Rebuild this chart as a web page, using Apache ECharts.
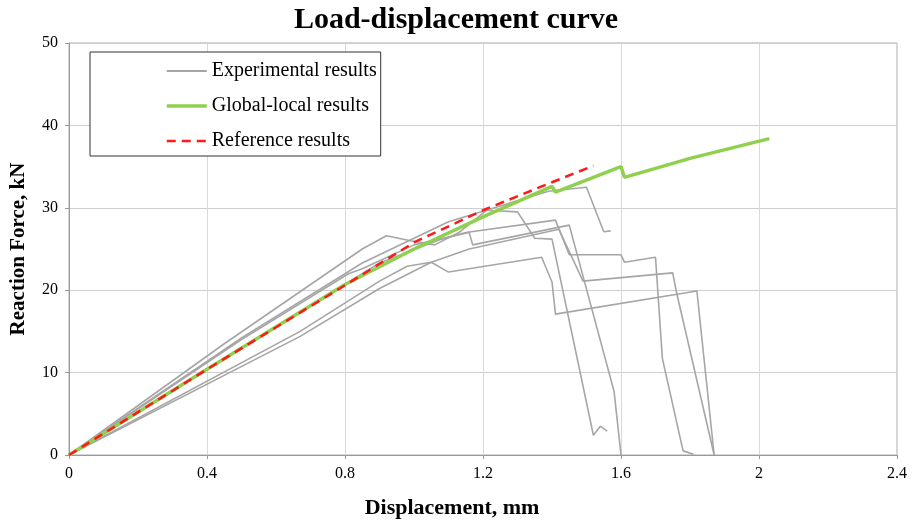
<!DOCTYPE html>
<html>
<head>
<meta charset="utf-8">
<script src="https://cdn.jsdelivr.net/npm/echarts@6/dist/echarts.min.js"></script>
<style>
  html, body { margin: 0; padding: 0; background: #fff; }
  #chart { width: 912px; height: 524px; }
</style>
</head>
<body>
<div id="chart"></div>
<script>
// experimental curves, [displacement mm, force kN]
const expA = [[0, 0], [0.45, 13.5], [0.85, 25.0], [0.92, 26.6], [0.99, 26.0], [1.06, 25.5], [1.13, 27.0], [1.21, 29.7], [1.30, 29.5], [1.35, 26.3], [1.40, 26.2], [1.52, 2.4], [1.54, 3.5], [1.56, 2.9]]
const expB = [[0, 0], [0.5, 14.0], [0.81, 22.0], [0.85, 22.6], [1.0, 25.5], [1.16, 27.0], [1.17, 25.5], [1.45, 27.9], [1.58, 7.7], [1.60, 0]]
const expC = [[0, 0], [0.9, 23.3], [1.08, 26.2], [1.15, 27.0], [1.41, 28.5], [1.45, 24.3], [1.60, 24.3], [1.61, 23.4], [1.70, 24.0], [1.72, 11.7], [1.78, 0.5], [1.81, 0.1]]
const expD = [[0, 0], [0.67, 15.0], [0.90, 21.1], [0.98, 22.9], [1.05, 23.4], [1.10, 22.2], [1.37, 24.0], [1.40, 21.0], [1.41, 17.1], [1.82, 19.9], [1.87, 0]]
const expE = [[0, 0], [0.5, 14.2], [0.85, 23.3], [1.1, 28.3], [1.39, 32.0], [1.50, 32.5], [1.55, 27.1], [1.57, 27.2]]
const expF = [[0, 0], [0.67, 14.4], [0.90, 20.2], [1.05, 23.4], [1.16, 25.0], [1.42, 27.4], [1.49, 21.1], [1.75, 22.1], [1.76, 19.9], [1.87, 0]]

const globalLocal = [[0, 0], [0.4, 10.4], [0.8, 20.7], [1.0, 25.0], [1.2, 28.9], [1.40, 32.6], [1.41, 31.9], [1.60, 35.0], [1.61, 33.7], [1.8, 36.0], [2.03, 38.4]]
const reference = [[0, 0], [0.4, 10.4], [0.8, 20.6], [1.0, 25.8], [1.2, 29.7], [1.4, 33.1], [1.52, 35.1]]

const experimental = [expA, expB, expC, expD, expE, expF]

const serif = 'Liberation Serif, Times New Roman, serif'
const gray = '#a6a6a6'
const green = '#8fd14f'
const red = '#ff1a1a'

const series = experimental.map(d => ({
  name: 'Experimental results',
  type: 'line',
  data: d,
  symbol: 'none',
  lineStyle: { color: gray, width: 1.6 },
  itemStyle: { color: gray },
  z: 2
}))
series.push({
  name: 'Global-local results',
  type: 'line',
  data: globalLocal,
  symbol: 'none',
  lineStyle: { color: green, width: 3.5 },
  itemStyle: { color: green },
  z: 3
})
series.push({
  name: 'Reference results',
  type: 'line',
  data: reference,
  symbol: 'none',
  lineStyle: { color: red, width: 2.5, type: [9, 6] },
  itemStyle: { color: red },
  z: 4
})

const chart = echarts.init(document.getElementById('chart'))
chart.setOption({
  animation: false,
  title: {
    text: 'Load-displacement curve',
    left: 'center',
    top: 0,
    textStyle: { fontFamily: serif, fontSize: 30, fontWeight: 'bold', color: '#000' }
  },
  legend: {
    orient: 'vertical',
    left: 90,
    top: 52,
    padding: [9, 4, 5, 75],
    itemWidth: 40,
    itemHeight: 14,
    itemGap: 15,
    borderColor: '#333',
    borderWidth: 1,
    backgroundColor: '#fff',
    itemStyle: { opacity: 0 },
    textStyle: { fontFamily: serif, fontSize: 20, color: '#000' },
    data: [
      { name: 'Experimental results', lineStyle: { width: 1.8 } },
      { name: 'Global-local results', lineStyle: { width: 3.5 } },
      { name: 'Reference results', lineStyle: { width: 2.5 } }
    ]
  },
  grid: { left: 69, right: 15, top: 43, bottom: 67, show: true, borderColor: '#aaa', borderWidth: 1 },
  xAxis: {
    type: 'value',
    min: 0,
    max: 2.4,
    interval: 0.4,
    name: 'Displacement, mm',
    nameLocation: 'middle',
    nameGap: 42,
    nameTextStyle: { fontFamily: serif, fontSize: 22, fontWeight: 'bold', color: '#000', padding: [0, 62, 0, 0] },
    axisLine: { lineStyle: { color: '#999' } },
    axisTick: { show: true, length: 4, lineStyle: { color: '#999' } },
    axisLabel: { fontFamily: serif, fontSize: 16, color: '#000', margin: 11 },
    splitLine: { lineStyle: { color: '#d9d9d9' } }
  },
  yAxis: {
    type: 'value',
    min: 0,
    max: 50,
    interval: 10,
    name: 'Reaction Force, kN',
    nameLocation: 'middle',
    nameGap: 40,
    nameTextStyle: { fontFamily: serif, fontSize: 21, fontWeight: 'bold', color: '#000' },
    axisLine: { show: true, lineStyle: { color: '#999' } },
    axisTick: { show: true, length: 4, lineStyle: { color: '#999' } },
    axisLabel: { fontFamily: serif, fontSize: 16, color: '#000', margin: 11 },
    splitLine: { lineStyle: { color: '#cfcfcf' } }
  },
  series: series
})
</script>
</body>
</html>
